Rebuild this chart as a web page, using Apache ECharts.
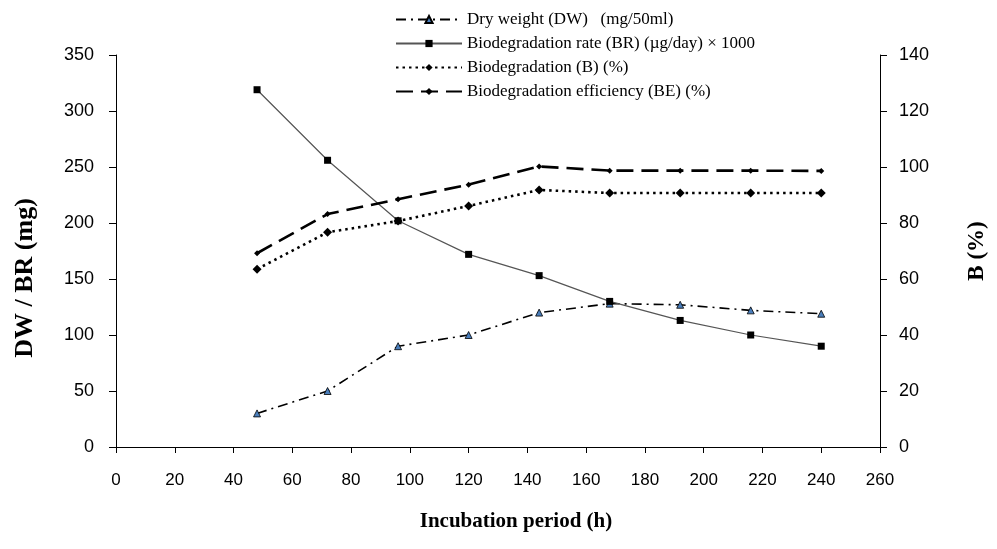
<!DOCTYPE html>
<html>
<head>
<meta charset="utf-8">
<script src="https://cdn.jsdelivr.net/npm/echarts@6/dist/echarts.min.js"></script>
<style>
  html, body { margin: 0; padding: 0; background: #fff; }
  #chart { width: 997px; height: 549px; }
</style>
</head>
<body>
<div id="chart"></div>
<script>
// incubation time (h)
const hours = [48, 72, 96, 120, 144, 168, 192, 216, 240];
// left axis (mg)
const dryWeight = [30, 50, 90, 100, 120, 128, 127, 122, 119];
const bioRate = [319, 256, 202, 172, 153, 130, 113, 100, 90];
// right axis (%)
const bioPercent = [63.5, 76.7, 80.7, 86.1, 91.8, 90.7, 90.7, 90.7, 90.7];
const bioEfficiency = [69.2, 83.2, 88.5, 93.7, 100.2, 98.7, 98.7, 98.7, 98.6];

const legendNames = [
  "Dry weight (DW)   (mg/50ml)",
  "Biodegradation rate (BR) (\u00b5g/day) \u00d7 1000",
  "Biodegradation (B) (%)",
  "Biodegradation efficiency (BE) (%)",
];

const pairs = (vals) => hours.map((h, i) => [h, vals[i]]);

const axisLine = { show: true, lineStyle: { color: "#000", width: 1 } };
const tickLabel = { color: "#000", fontFamily: "Liberation Sans", fontSize: 18 };
const nameStyle = { color: "#000", fontFamily: "Liberation Serif", fontWeight: "bold", fontSize: 23 };

const chart = echarts.init(document.getElementById("chart"));
chart.setOption({
  animation: false,
  backgroundColor: "#fff",
  grid: { left: 116, right: 109, top: 55, bottom: 102 },
  legend: {
    orient: "vertical",
    left: 390,
    top: 6,
    itemWidth: 66,
    itemHeight: 9,
    itemGap: 7,
    textStyle: { color: "#000", fontFamily: "Liberation Serif", fontSize: 17 },
    data: legendNames,
  },
  xAxis: {
    type: "value",
    min: 0,
    max: 260,
    interval: 20,
    name: "Incubation period (h)",
    nameLocation: "middle",
    nameGap: 64,
    nameTextStyle: Object.assign({}, nameStyle, { fontSize: 21, padding: [0, 0, 0, 36] }),
    axisLine: axisLine,
    axisTick: { show: true, length: 6, lineStyle: { color: "#000" } },
    axisLabel: Object.assign({ margin: 25 }, tickLabel, { fontSize: 17 }),
    splitLine: { show: false },
  },
  yAxis: [
    {
      type: "value",
      min: 0,
      max: 350,
      interval: 50,
      name: "DW / BR (mg)",
      nameLocation: "middle",
      nameGap: 78,
      nameTextStyle: Object.assign({}, nameStyle, { fontSize: 26, padding: [0, 54, 0, 0] }),
      axisLine: axisLine,
      axisTick: { show: true, length: 7, lineStyle: { color: "#000" } },
      axisLabel: Object.assign({ margin: 22 }, tickLabel),
      splitLine: { show: false },
    },
    {
      type: "value",
      min: 0,
      max: 140,
      interval: 20,
      name: "B (%)",
      nameLocation: "middle",
      nameGap: 86,
      nameTextStyle: nameStyle,
      axisLine: axisLine,
      axisTick: { show: true, length: 7, lineStyle: { color: "#000" } },
      axisLabel: Object.assign({ margin: 19 }, tickLabel),
      splitLine: { show: false },
    },
  ],
  series: [
    {
      name: legendNames[0],
      type: "line",
      yAxisIndex: 0,
      data: pairs(dryWeight),
      symbol: "triangle",
      symbolSize: 7,
      itemStyle: { color: "#4a7ebb", borderColor: "#000", borderWidth: 0.8 },
      lineStyle: { color: "#000", width: 1.6, type: [10, 5, 2, 5] },
    },
    {
      name: legendNames[1],
      type: "line",
      yAxisIndex: 0,
      data: pairs(bioRate),
      symbol: "rect",
      symbolSize: 7,
      itemStyle: { color: "#000" },
      lineStyle: { color: "#555", width: 1.2, type: "solid" },
    },
    {
      name: legendNames[2],
      type: "line",
      yAxisIndex: 1,
      data: pairs(bioPercent),
      symbol: "diamond",
      symbolSize: 9,
      itemStyle: { color: "#000" },
      lineStyle: { color: "#000", width: 2.6, type: [2.5, 4] },
    },
    {
      name: legendNames[3],
      type: "line",
      yAxisIndex: 1,
      data: pairs(bioEfficiency),
      symbol: "diamond",
      symbolSize: 6,
      itemStyle: { color: "#000" },
      lineStyle: { color: "#000", width: 2.6, type: [17, 8] },
    },
  ],
});
</script>
</body>
</html>
